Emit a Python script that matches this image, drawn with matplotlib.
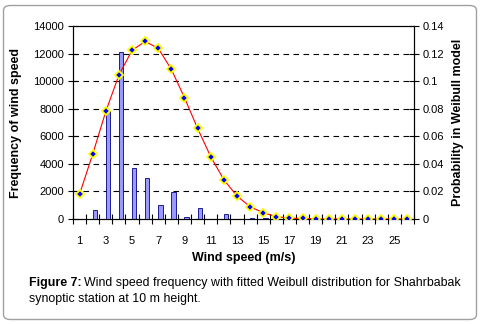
import matplotlib
matplotlib.use("Agg")
import matplotlib.pyplot as plt
from matplotlib.patches import FancyBboxPatch
import numpy as np

plt.rcParams['font.family'] = ['Liberation Sans', 'DejaVu Sans']

categories = list(range(1, 27))
frequency = [0, 650, 7800, 12100, 3700, 2950, 1000, 1960, 130, 780, 0, 340, 0,
             100, 50, 0, 0, 0, 0, 0, 0, 0, 0, 0, 0, 0]
weibull = [0.018, 0.047, 0.078, 0.1044, 0.1223, 0.1288, 0.1238, 0.1085, 0.088,
           0.0657, 0.0452, 0.0285, 0.0167, 0.0089, 0.0046, 0.0017, 0.0006, 0.0004,
           0.0001, 0, 0, 0, 0, 0, 0, 0]
left_ticks = [0, 2000, 4000, 6000, 8000, 10000, 12000, 14000]
right_ticks = [0, 0.02, 0.04, 0.06, 0.08, 0.1, 0.12, 0.14]
right_labels = ["0", "0.02", "0.04", "0.06", "0.08", "0.1", "0.12", "0.14"]

fig = plt.figure(figsize=(4.8, 3.24), dpi=100)
W, H = 480, 324
# outer rounded border
fig.patches.append(FancyBboxPatch((3.5 / W, 4.5 / H), 473 / W, 314 / H,
                                  boxstyle="round,pad=0,rounding_size=0.015",
                                  transform=fig.transFigure, facecolor='white',
                                  edgecolor='#a0a0a0', linewidth=1.0, zorder=-5))

x0, x1, y0, y1 = 73, 414, 26, 219
ax = fig.add_axes([x0 / W, 1 - y1 / H, (x1 - x0) / W, (y1 - y0) / H])
ax.patch.set_alpha(0)

x = np.array(categories, dtype=float)
ax.bar(x, frequency, width=0.33, align='edge', color='#9999ff',
       edgecolor='#000080', linewidth=0.6, zorder=3)
ax.set_ylim(0, 14000)
ax.set_xlim(0.5, 26.5)
ax.set_yticks(left_ticks)
ax.set_yticklabels([str(t) for t in left_ticks])
for t in left_ticks[1:-1]:
    ax.axhline(t, color='black', linestyle=(0, (5, 4)), linewidth=0.8, zorder=1)

ax.set_xticks(categories[::2])
ax.set_xticklabels([str(c) for c in categories[::2]])
ax.set_xticks(np.arange(0.5, 27, 1.0), minor=True)
ax.tick_params(axis='x', which='major', length=0, pad=12, labelsize=8)
ax.tick_params(axis='x', which='minor', length=7, direction='inout', width=0.8)
ax.tick_params(axis='y', which='major', length=7, direction='inout', width=0.8,
               labelsize=8, pad=3)
for s in ax.spines.values():
    s.set_linewidth(0.8)

ax.set_ylabel('Frequency of wind speed', fontsize=9, fontweight='bold')
ax.yaxis.label.set_va('center')
ax.yaxis.set_label_coords((16 - x0) / (x1 - x0), 0.5)
ax.set_xlabel('Wind speed (m/s)', fontsize=9, fontweight='bold')
ax.xaxis.label.set_va('center')
ax.xaxis.set_label_coords(0.5, (y1 - 258) / (y1 - y0))

ax2 = ax.twinx()
ax2.set_ylim(0, 0.14)
ax2.set_yticks(right_ticks)
ax2.set_yticklabels(right_labels)
ax2.tick_params(axis='y', length=7, direction='inout', width=0.8, labelsize=8, pad=3)
ax2.plot(x, weibull, color='#ff0000', linewidth=0.8, zorder=4)
ax2.plot(x, weibull, linestyle='none', marker='D', markersize=4.2,
         markerfacecolor='#0000ff', markeredgecolor='#ffff00', markeredgewidth=1.3, zorder=5)
ax2.set_ylabel('Probability in Weibull model', fontsize=9, fontweight='bold')
ax2.yaxis.label.set_va('center')
ax2.yaxis.set_label_coords((458 - x0) / (x1 - x0), 0.5)
for s in ax2.spines.values():
    s.set_linewidth(0.8)

tb = fig.text(29 / W, 1 - 283 / H, 'Figure 7:', fontsize=8.9, va='center', ha='left',
              fontweight='bold')
fig.canvas.draw()
bb = tb.get_window_extent()
fig.text((bb.x1 + 2) / W, 1 - 283 / H,
         'Wind speed frequency with fitted Weibull distribution for Shahrbabak',
         fontsize=8.9, va='center', ha='left')
fig.text(29 / W, 1 - 299 / H, 'synoptic station at 10 m height.',
         fontsize=8.9, va='center', ha='left')

fig.savefig('out.png', dpi=100)
